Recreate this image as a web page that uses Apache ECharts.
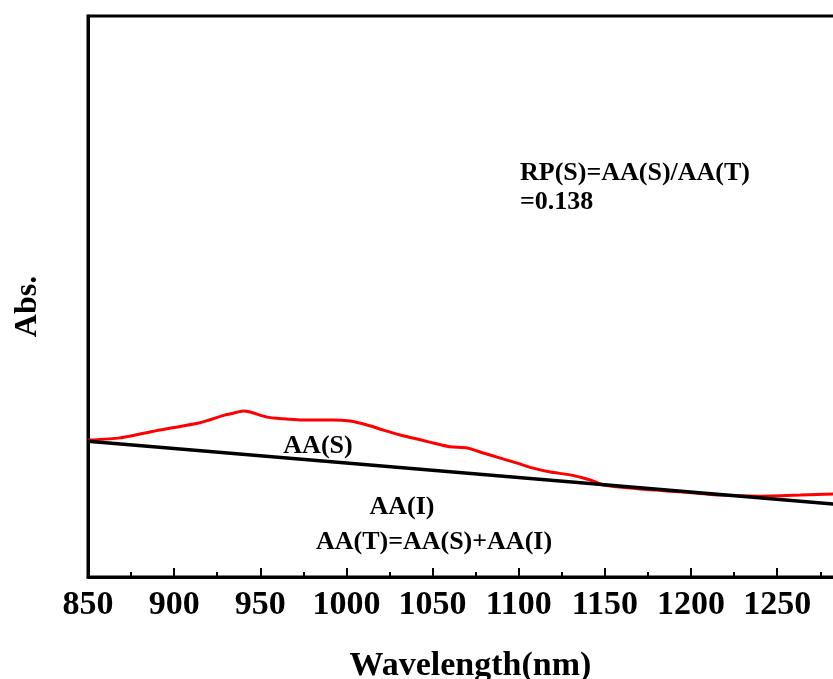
<!DOCTYPE html>
<html>
<head>
	<meta charset="utf-8">
	<title>Abs. vs Wavelength</title>
	<script src="https://cdn.jsdelivr.net/npm/echarts@6/dist/echarts.min.js"></script>
	<style>
		body { margin: 0; background: #fff; }
	</style>
</head>
<body>
	<div id="main" style="width: 833px;height: 679px;"></div>
	<script>
		// 数据：波长(nm) 与 吸光度 (任意单位)
		var waveRed = [850, 868.6, 891.8, 915, 929.6, 934.2, 940, 944.1, 953.9, 963.2, 973.1, 992.3, 1002.1, 1012, 1021.3, 1031.2, 1050.3, 1060.2, 1070.1, 1079.4, 1089.3, 1099.1, 1108.4, 1118.3, 1129.9, 1141.5, 1149.1, 1170.5, 1193.8, 1217, 1240.2, 1263.5, 1282.6, 1294];
		var absRed = [0.244, 0.248, 0.262, 0.275, 0.289, 0.292, 0.296, 0.294, 0.285, 0.282, 0.280, 0.280, 0.278, 0.271, 0.262, 0.253, 0.239, 0.232, 0.230, 0.221, 0.212, 0.203, 0.194, 0.187, 0.182, 0.173, 0.164, 0.157, 0.152, 0.146, 0.144, 0.146, 0.148, 0.149];
		// 基线 (AA(I))
		var waveBase = [850, 1294];
		var absBase = [0.242, 0.127];
		var xTicks = [850, 900, 950, 1000, 1050, 1100, 1150, 1200, 1250];

		var font = 'Liberation Serif';

		function pairs(xs, ys) {
			var out = [];
			for (var i = 0; i < xs.length; i++) out.push([xs[i], ys[i]]);
			return out;
		}

		var myCharts = echarts.init(document.getElementById('main'));
		var option = {
			backgroundColor: '#fff',
			animation: false,
			grid: {
				left: 88, top: 16, right: -20, bottom: 102,
				outerBoundsMode: 'none',
				containLabel: false,
				show: true, borderColor: '#000', borderWidth: 3
			},
			xAxis: {
				type: 'value',
				min: xTicks[0], max: 1294, interval: 50,
				name: 'Wavelength(nm)',
				nameLocation: 'middle',
				nameGap: 72,
				nameTextStyle: { fontFamily: font, fontWeight: 'bold', fontSize: 34, color: '#000' },
				axisLine: { lineStyle: { color: '#000', width: 3 } },
				axisTick: { inside: true, length: 9, lineStyle: { color: '#000', width: 2 } },
				minorTick: { show: true, splitNumber: 2, length: 5, lineStyle: { color: '#000', width: 2 } },
				axisLabel: {
					margin: 11, showMaxLabel: false,
					formatter: function (v) { return String(v); },
					fontFamily: font, fontWeight: 'bold', fontSize: 34, color: '#000'
				},
				splitLine: { show: false }
			},
			yAxis: {
				type: 'value',
				min: 0, max: 1,
				name: 'Abs.',
				nameLocation: 'middle',
				nameGap: 44,
				nameTextStyle: { fontFamily: font, fontWeight: 'bold', fontSize: 32, color: '#000', padding: [0, 20, 0, 0] },
				axisLine: { show: true, lineStyle: { color: '#000', width: 3 } },
				axisTick: { show: false },
				axisLabel: { show: false },
				splitLine: { show: false }
			},
			series: [{
				name: 'Abs',
				type: 'line',
				showSymbol: false,
				smooth: 0.2,
				lineStyle: { color: '#ff0000', width: 3 },
				data: pairs(waveRed, absRed)
			}, {
				name: 'Baseline',
				type: 'line',
				showSymbol: false,
				lineStyle: { color: '#000', width: 3.5 },
				data: pairs(waveBase, absBase)
			}],
			graphic: [
				{ type: 'text', x: 520, y: 173, style: { text: 'RP(S)=AA(S)/AA(T)', font: 'bold 26px "Liberation Serif"', fill: '#000', align: 'left', verticalAlign: 'middle' } },
				{ type: 'text', x: 520, y: 202, style: { text: '=0.138', font: 'bold 26px "Liberation Serif"', fill: '#000', align: 'left', verticalAlign: 'middle' } },
				{ type: 'text', x: 318, y: 446, style: { text: 'AA(S)', font: 'bold 26px "Liberation Serif"', fill: '#000', align: 'center', verticalAlign: 'middle' } },
				{ type: 'text', x: 402, y: 507, style: { text: 'AA(I)', font: 'bold 26px "Liberation Serif"', fill: '#000', align: 'center', verticalAlign: 'middle' } },
				{ type: 'text', x: 434, y: 542, style: { text: 'AA(T)=AA(S)+AA(I)', font: 'bold 26px "Liberation Serif"', fill: '#000', align: 'center', verticalAlign: 'middle' } }
			]
		};
		myCharts.setOption(option);
	</script>
</body>
</html>
